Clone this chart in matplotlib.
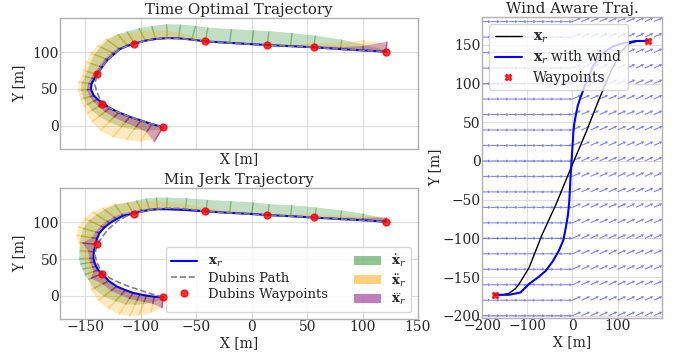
import numpy as np
import matplotlib
matplotlib.use("Agg")
import matplotlib.pyplot as plt

plt.style.use("seaborn-v0_8-whitegrid")
plt.rcParams["font.family"] = ["DejaVu Serif"]
plt.rcParams["mathtext.fontset"] = "dejavuserif"
plt.rcParams["font.size"] = 10
plt.rcParams["grid.color"] = "#dddddd"

# dubins waypoints (shared)
wp_x = [-80, -135, -140, -106, -42, 14, 56, 121]
wp_y = [-2, 30, 70, 112, 115, 110, 107, 101]

# dubins path
dub_x = [-80, -90, -100, -110, -120, -128, -134, -137.5, -140, -141.5, -140.5, -139.5,
         -135, -130, -124, -119, -112, -105.5, -96, -87, -76, -66, -54, -42, -20, 0,
         14, 35, 56, 80, 100, 121]
dub_y = [-2, 2, 7, 12, 18, 24, 30, 38, 47, 56, 64, 70, 80, 90, 98, 104.5, 109, 112,
         116, 118.3, 119.5, 119.2, 117.5, 115, 113, 111.2, 110, 108.5, 107, 104.5, 102.7, 101]

# time optimal trajectory
to_x = [-80, -90, -100, -110, -120, -128, -134, -139, -142.5, -145, -144.5, -142, -139.5,
        -135, -130, -124, -119, -112, -105.5, -96, -87, -76, -66, -54, -42, -20, 0, 14,
        35, 56, 80, 100, 121]
to_y = [-2, 2, 7, 12, 18, 24, 30, 36, 41, 49.5, 57, 64, 70, 80, 90, 98, 104.5, 109, 112,
        116, 118.3, 119.5, 119.2, 117.5, 115, 113, 111.2, 110, 108.5, 107, 104.5, 102.7, 101]
to_vel = [4, 10, 14, 16, 16, 15, 14, 12, 10, 9, 9, 9, 10, 12, 14, 16, 17, 18, 18, 18, 18,
          19, 19, 19, 19, 19, 19, 19, 18, 16, 13, 8, 2]
to_acc = [18, 26, 30, 32, 30, 25, 20, 16, 13, 12, 12, 12, 14, 16, 18, 19, 19, 18, 16, 14,
          12, 10, 8, 5, 3, 2, 2, 2, 3, 5, 9, 14, 10]
to_jerk = [22, 12, 10, 9, 8, 7, 6, 5, 4, 4, 3, 3, 3, 3, 3, 3, 2, 2, 2, 1, 1, 1, 1, 1, 1,
           1, 1, 1, 1, 2, 3, 6, 14]

# min jerk trajectory
mj_x = [-80, -88, -95, -101, -107, -114, -122, -129, -135, -138.5, -140.3, -142, -142.8,
        -142.5, -141, -139.5, -137.4, -133, -128, -122, -116, -107, -99, -92, -85, -77,
        -60, -41.5, -20, 0, 14.5, 35, 57, 80, 100, 121]
mj_y = [-2, -1.5, 0, 1.8, 3.7, 7.5, 12.7, 20, 30, 35, 40, 46, 51, 60, 70, 78, 85.5, 93,
        99, 104.5, 109, 112, 115, 117, 118, 118, 117, 115, 113, 111.5, 110, 108.5, 106.5,
        104.5, 103, 101]
mj_vel = [3, 8, 12, 15, 17, 18, 18, 17, 15, 14, 13, 13, 13, 13, 14, 15, 16, 17, 17, 17,
          17, 16, 16, 16, 16, 16, 16, 16, 16, 16, 15, 15, 14, 12, 9, 4]
mj_acc = [15, 22, 28, 31, 32, 30, 26, 20, 14, 11, 9, 8, 9, 12, 16, 19, 21, 22, 22, 20,
          18, 16, 14, 12, 11, 10, 8, 5, 3, 2, 2, 3, 4, 5, 6, 5]
mj_jerk = [15, 10, 9, 9, 9, 8, 8, 7, 12, 5, 4, 4, 4, 5, 12, 5, 4, 4, 4, 4, 3, 3, 3, 2,
           2, 2, 2, 2, 1, 1, 1, 1, 1, 2, 3, 6]

# wind aware trajectory
wind_wp_x = [-172, 167]
wind_wp_y = [-173, 155]
ref_x = [-172, -155, -140, -126, -118, -96, -67, -37, -4, 30, 59, 85, 107, 126, 145, 167]
ref_y = [-173, -173, -171, -165, -159, -138, -95, -57, -10, 37, 80, 116, 141, 152, 155, 155]
ww_x = [-172, -140, -115, -96, -75, -59, -44, -30, -20, -15, -10, -7, -4, -2, 0, 2, 4,
        7, 12, 19, 30, 45, 67, 90, 111, 140, 167]
ww_y = [-173, -173, -170, -159, -150, -142, -130, -116, -102, -87, -70, -52, -18, 0, 18,
        37, 48, 58, 72, 84, 101, 122, 139, 148, 152, 155, 155]

# wind field (varies with x only)
wind_cols = [-200, -180, -160, -140, -120, -100, -80, -60, -40, -20, 0, 20, 40, 60, 80,
             100, 120, 140, 160, 180]
wind_rows = [-200, -180, -160, -140, -120, -100, -80, -60, -40, -20, 0, 20, 40, 60, 80,
             100, 120, 140, 160, 180]
wind_u = [20, 20, 20, 20, 20, 20, 20, 20, 20, 20, 19, 19, 19, 19, 19, 19, 19, 19, 19, 19]
wind_v = [0, 0, 0, 0, 0, 0, 0, 0, 0, 0, 5, 5, 5, 5, 5, 5, 5, 5, 5, 5]


def normals(x, y):
    x = np.asarray(x, float)
    y = np.asarray(y, float)
    dx = np.gradient(x)
    dy = np.gradient(y)
    n = np.hypot(dx, dy)
    return x, y, -dy / n, dx / n


def draw_traj(ax, x, y, vel, acc, jerk):
    px, py, nx, ny = normals(x, y)
    kw = dict(angles="xy", scale_units="xy", scale=1, width=0.004,
              headwidth=1, headlength=0, headaxislength=0)
    for mag, col, a, lab in [(vel, "forestgreen", 0.45, r"$\dot{\mathbf{x}}_r$"),
                             (acc, "orange", 0.4, r"$\ddot{\mathbf{x}}_r$"),
                             (jerk, "purple", 0.5, r"$\dddot{\mathbf{x}}_r$")]:
        m = np.asarray(mag, float)
        ex, ey = px + nx * m, py + ny * m
        ax.fill(np.r_[px, ex[::-1]], np.r_[py, ey[::-1]], color=col, alpha=a * 0.6,
                lw=0)
        ax.quiver(px, py, nx * m, ny * m, color=col, alpha=a, label=lab, **kw)
    ax.plot(x, y, color="blue", lw=1.5, label=r"$\mathbf{x}_r$", zorder=4)
    ax.plot(dub_x, dub_y, color="gray", ls="--", lw=1.2, label="Dubins Path", zorder=5)
    ax.plot(wp_x, wp_y, "o", color="red", ms=5, alpha=0.8, lw=0,
            label="Dubins Waypoints", zorder=6)
    ax.set_xlim(-173, 150)
    ax.set_ylim(-32, 147)
    ax.set_xticks([-150, -100, -50, 0, 50, 100, 150])
    ax.set_yticks([0, 50, 100])
    ax.set_xlabel("X [m]", labelpad=1)
    ax.set_ylabel("Y [m]")


fig = plt.figure(figsize=(6.81, 3.58), dpi=100)
ax1 = fig.add_axes([0.0881, 0.5838, 0.5257, 0.3659])
ax2 = fig.add_axes([0.0881, 0.1089, 0.5257, 0.3659])
ax3 = fig.add_axes([0.7078, 0.1117, 0.2643, 0.8408])

draw_traj(ax1, to_x, to_y, to_vel, to_acc, to_jerk)
ax1.set_title("Time Optimal Trajectory", fontsize=10.8, pad=3)
ax1.set_xticklabels([])

draw_traj(ax2, mj_x, mj_y, mj_vel, mj_acc, mj_jerk)
ax2.set_title("Min Jerk Trajectory", fontsize=10.8, pad=3)
h, l = ax2.get_legend_handles_labels()
order = [3, 4, 5, 0, 1, 2]
leg = ax2.legend([h[i] for i in order], [l[i] for i in order], ncol=2, loc="lower right",
                 frameon=True, fontsize=9.5, borderpad=0.4, labelspacing=0.2,
                 numpoints=1)
for lh in leg.legend_handles[3:]:
    lh.set_alpha(0.5)

# wind aware
WX, WY = np.meshgrid(wind_cols, wind_rows)
WU = np.tile(wind_u, (len(wind_rows), 1))
WV = np.tile(wind_v, (len(wind_rows), 1))
ax3.quiver(WX, WY, WU, WV, angles="xy", scale_units="xy", scale=1, color="blue",
           alpha=0.5, width=0.006, headwidth=3, headlength=3, headaxislength=2.7)
ax3.plot(ref_x, ref_y, color="black", lw=1.0, label=r"$\mathbf{x}_r$")
ax3.plot(ww_x, ww_y, color="blue", lw=1.5, label=r"$\mathbf{x}_r$ with wind")
ax3.plot(wind_wp_x, wind_wp_y, "X", color="red", ms=5, alpha=0.8, lw=0,
         label="Waypoints")
ax3.set_xlim(-200, 198)
ax3.set_ylim(-203, 186)
ax3.set_xticks([-200, -100, 0, 100])
ax3.set_yticks([-200, -150, -100, -50, 0, 50, 100, 150])
ax3.set_xlabel("X [m]", labelpad=1)
ax3.set_ylabel("Y [m]", labelpad=0)
ax3.set_title("Wind Aware Traj.", fontsize=10.8, pad=3)
ax3.legend(loc="upper left", frameon=True, fontsize=10, borderpad=0.4,
           labelspacing=0.3, numpoints=1)

for ax in (ax1, ax2, ax3):
    ax.tick_params(labelsize=10, pad=1)
    for s in ax.spines.values():
        s.set_color("#b0b0b0")

fig.savefig("out.png", dpi=100)
